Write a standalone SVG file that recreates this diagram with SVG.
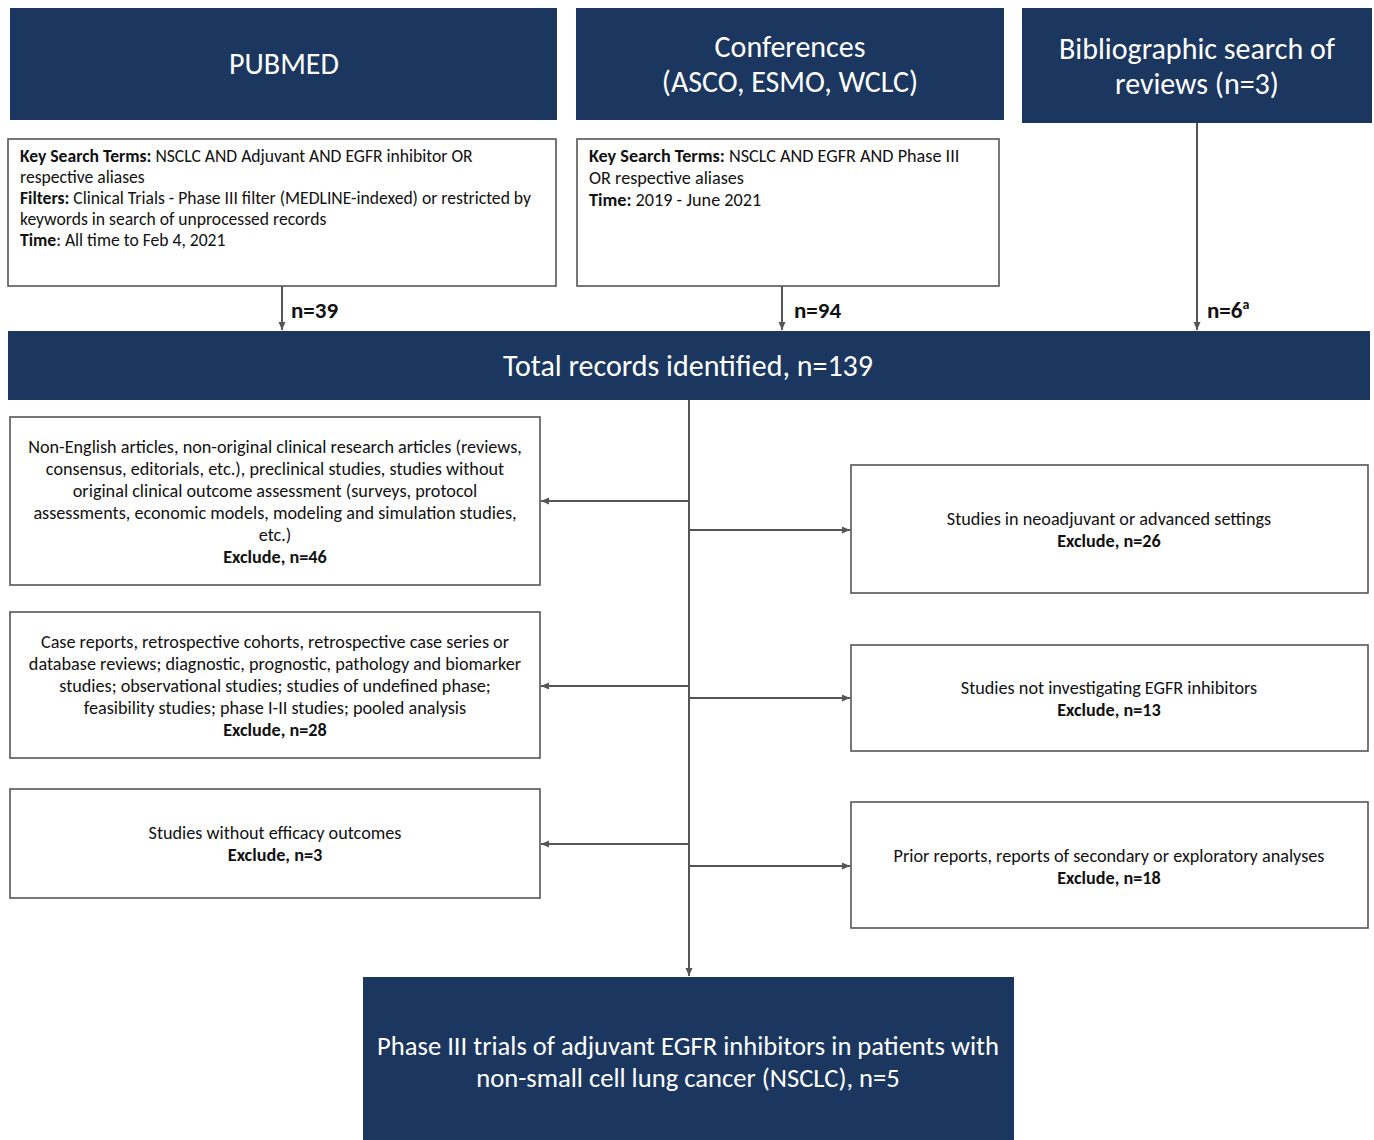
<svg xmlns="http://www.w3.org/2000/svg" width="1374" height="1140" viewBox="0 0 1374 1140">
<defs>
<marker id="ah" markerWidth="10" markerHeight="10" refX="9" refY="5" orient="auto" markerUnits="userSpaceOnUse">
<path d="M1,1.5 L9,5 L1,8.5 Z" fill="#555"/>
</marker>
<style>
.nv{fill:#1b375f}
.bx{fill:#fff;stroke:#555;stroke-width:1.6}
.ht{font-family:Carlito,Lato,"Liberation Sans",sans-serif;fill:#fff;text-anchor:middle;font-size:30px}
.t{font-family:Carlito,Lato,"Liberation Sans",sans-serif;font-size:18.2px;fill:#111}
.tl{font-size:17.6px}
.c{text-anchor:middle}
.b{font-weight:bold}
.n{font-family:Carlito,Lato,"Liberation Sans",sans-serif;font-size:23px;font-weight:bold;fill:#111}
.ln{stroke:#555;stroke-width:2;fill:none}
</style>
</defs>
<rect width="1374" height="1140" fill="#fff"/>

<g id="pubmed">
<rect class="nv" x="10" y="8" width="547" height="112"/>
<text class="ht" x="284" y="74">PUBMED</text>
</g>
<g id="conferences">
<rect class="nv" x="576" y="8" width="428" height="112"/>
<text class="ht" x="790" y="57">Conferences</text>
<text class="ht" x="790" y="92">(ASCO, ESMO, WCLC)</text>
</g>
<g id="bibliographic">
<rect class="nv" x="1022" y="8" width="350" height="115"/>
<text class="ht" x="1197" y="59">Bibliographic search of</text>
<text class="ht" x="1197" y="94">reviews (n=3)</text>
</g>

<g id="pubmed-terms">
<rect class="bx" x="8" y="139" width="548" height="147"/>
<text class="t tl" x="20" y="162"><tspan class="b">Key Search Terms:</tspan> NSCLC AND Adjuvant AND EGFR inhibitor OR</text>
<text class="t tl" x="20" y="183">respective aliases</text>
<text class="t tl" x="20" y="204"><tspan class="b">Filters:</tspan> Clinical Trials - Phase III filter (MEDLINE-indexed) or restricted by</text>
<text class="t tl" x="20" y="225">keywords in search of unprocessed records</text>
<text class="t tl" x="20" y="246"><tspan class="b">Time</tspan>: All time to Feb 4, 2021</text>
</g>
<g id="conf-terms">
<rect class="bx" x="577" y="139" width="422" height="147"/>
<text class="t" x="589" y="162"><tspan class="b">Key Search Terms:</tspan> NSCLC AND EGFR AND Phase III</text>
<text class="t" x="589" y="184">OR respective aliases</text>
<text class="t" x="589" y="206"><tspan class="b">Time:</tspan> 2019 - June 2021</text>
</g>

<g id="total">
<rect class="nv" x="8" y="331" width="1362" height="69"/>
<text class="ht" x="688" y="376">Total records identified, n=139</text>
</g>

<g id="ex46">
<rect class="bx" x="10" y="417" width="530" height="168"/>
<text class="t c" x="275" y="453">Non-English articles, non-original clinical research articles (reviews,</text>
<text class="t c" x="275" y="475">consensus, editorials, etc.), preclinical studies, studies without</text>
<text class="t c" x="275" y="497">original clinical outcome assessment (surveys, protocol</text>
<text class="t c" x="275" y="519">assessments, economic models, modeling and simulation studies,</text>
<text class="t c" x="275" y="541">etc.)</text>
<text class="t c b" x="275" y="563">Exclude, n=46</text>
</g>
<g id="ex28">
<rect class="bx" x="10" y="612" width="530" height="146"/>
<text class="t c" x="275" y="648">Case reports, retrospective cohorts, retrospective case series or</text>
<text class="t c" x="275" y="670">database reviews; diagnostic, prognostic, pathology and biomarker</text>
<text class="t c" x="275" y="692">studies; observational studies; studies of undefined phase;</text>
<text class="t c" x="275" y="714">feasibility studies; phase I-II studies; pooled analysis</text>
<text class="t c b" x="275" y="736">Exclude, n=28</text>
</g>
<g id="ex3">
<rect class="bx" x="10" y="789" width="530" height="109"/>
<text class="t c" x="275" y="839">Studies without efficacy outcomes</text>
<text class="t c b" x="275" y="861">Exclude, n=3</text>
</g>
<g id="ex26">
<rect class="bx" x="851" y="465" width="517" height="128"/>
<text class="t c" x="1109" y="525">Studies in neoadjuvant or advanced settings</text>
<text class="t c b" x="1109" y="547">Exclude, n=26</text>
</g>
<g id="ex13">
<rect class="bx" x="851" y="645" width="517" height="106"/>
<text class="t c" x="1109" y="694">Studies not investigating EGFR inhibitors</text>
<text class="t c b" x="1109" y="716">Exclude, n=13</text>
</g>
<g id="ex18">
<rect class="bx" x="851" y="802" width="517" height="126"/>
<text class="t c" x="1109" y="862">Prior reports, reports of secondary or exploratory analyses</text>
<text class="t c b" x="1109" y="884">Exclude, n=18</text>
</g>

<g id="final">
<rect class="nv" x="363" y="977" width="651" height="163"/>
<text class="ht" x="688" y="1055" style="font-size:26.6px">Phase III trials of adjuvant EGFR inhibitors in patients with</text>
<text class="ht" x="688" y="1087" style="font-size:26.6px">non-small cell lung cancer (NSCLC), n=5</text>
</g>

<g id="connectors">
<line class="ln" x1="282" y1="286" x2="282" y2="330" marker-end="url(#ah)"/>
<line class="ln" x1="782" y1="286" x2="782" y2="330" marker-end="url(#ah)"/>
<line class="ln" x1="1197" y1="123" x2="1197" y2="330" marker-end="url(#ah)"/>
<line class="ln" x1="689" y1="400" x2="689" y2="976" marker-end="url(#ah)"/>
<line class="ln" x1="689" y1="501" x2="541" y2="501" marker-end="url(#ah)"/>
<line class="ln" x1="689" y1="686" x2="541" y2="686" marker-end="url(#ah)"/>
<line class="ln" x1="689" y1="844" x2="541" y2="844" marker-end="url(#ah)"/>
<line class="ln" x1="689" y1="530" x2="850" y2="530" marker-end="url(#ah)"/>
<line class="ln" x1="689" y1="698" x2="850" y2="698" marker-end="url(#ah)"/>
<line class="ln" x1="689" y1="866" x2="850" y2="866" marker-end="url(#ah)"/>
<text class="n" x="291" y="318">n=39</text>
<text class="n" x="794" y="318">n=94</text>
<text class="n" x="1207" y="318">n=6<tspan font-size="14" dy="-9">a</tspan></text>
</g>
</svg>
